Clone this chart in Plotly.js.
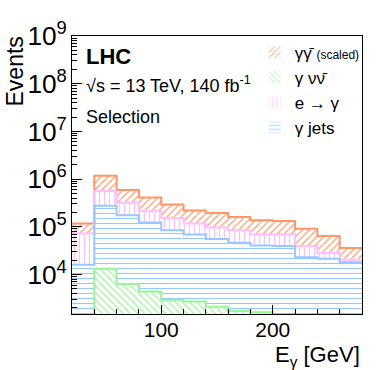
<!DOCTYPE html>
<html>
<head>
<meta charset="utf-8">
<script src="https://cdn.plot.ly/plotly-3.0.1.min.js"></script>
<style>
  body { margin: 0; background: #fff; }
  #plot { width: 382px; height: 370px; }
</style>
</head>
<body>
<div id="plot"></div>
<script>
// bin edges in GeV (20 GeV bins)
var binEdges = [20, 40, 60, 80, 100, 120, 140, 160, 180, 200, 220, 240, 260, 280];
var binCenters = [30, 50, 70, 90, 110, 130, 150, 170, 190, 210, 230, 250, 270];

// per-process yields
var gammaJets  = [16000, 274000, 174000, 122000, 84000, 69000, 55000, 46000, 40600, 39500, 23000, 21400, 18000];
var eToGamma   = [56000, 286000, 143000, 88000, 69000, 48000, 41000, 38000, 28400, 29500, 16000, 6600, 2400];
var gammaGamma = [45000, 610000, 269000, 200000, 140000, 103000, 99000, 76000, 68000, 63000, 52000, 36000, 15600];
var gammaNuNu  = [1300, 13200, 6300, 4400, 2900, 2700, 2100, 1700, 1600, 1200, 1000, 800, 600];

var font = 'Liberation Sans, Arial, sans-serif';

// stack tops
var jetsTop = gammaJets.slice();
var egTop = gammaJets.map(function (v, i) { return v + eToGamma[i]; });
var ggTop = egTop.map(function (v, i) { return v + gammaGamma[i]; });

function hatchBar(name, y, col, shape, rank) {
  return {
    type: 'bar', x: binCenters, y: y, width: 20, name: name, legendrank: rank,
    marker: {
      color: col, line: {width: 0},
      pattern: {shape: shape, fillmode: 'replace', fgcolor: col, bgcolor: 'white', size: 5, solidity: 0.22}
    },
    hoverinfo: 'skip'
  };
}

function step(y, col) {
  return {
    type: 'scatter', mode: 'lines', x: binEdges, y: y.concat([y[y.length - 1]]),
    line: {shape: 'hv', color: col, width: 2}, showlegend: false, hoverinfo: 'skip'
  };
}

var cOrange = 'rgb(255,150,100)';
var cGreen = 'rgb(150,245,150)';
var cPink = 'rgb(255,190,255)';
var cBlue = 'rgb(150,200,255)';

var data = [
  hatchBar('γγ\u0304 <span style="font-size:12px">(scaled)</span>', ggTop, cOrange, '/', 1),
  hatchBar('e → γ', egTop, cPink, '|', 3),
  hatchBar('γ jets', jetsTop, cBlue, '-', 4),
  hatchBar('γ νν\u0304', gammaNuNu, cGreen, '\\', 2),
  step(ggTop, cOrange),
  step(egTop, cPink),
  step(jetsTop, cBlue),
  step(gammaNuNu, cGreen)
];

var layout = {
  width: 382, height: 370,
  margin: {l: 72, r: 20, t: 36, b: 56},
  paper_bgcolor: 'white', plot_bgcolor: 'white',
  barmode: 'overlay', bargap: 0,
  font: {family: font, color: 'black'},
  showlegend: true,
  legend: {
    x: 0.63, y: 1.005, xanchor: 'left', yanchor: 'top',
    bgcolor: 'rgba(0,0,0,0)', borderwidth: 0,
    font: {family: font, size: 17, color: 'black'},
    tracegroupgap: 0
  },
  xaxis: {
    range: [20, 280],
    tickvals: [100, 200],
    ticks: 'inside', ticklen: 9, tickcolor: 'black',
    minor: {dtick: 20, tick0: 20, ticks: 'inside', ticklen: 5, tickcolor: 'black'},
    showline: true, mirror: true, linecolor: 'black', linewidth: 1,
    showgrid: false, zeroline: false,
    ticklabelstandoff: -3,
    tickfont: {family: font, size: 21, color: 'black'}
  },
  yaxis: {
    type: 'log', range: [3.17, 9],
    dtick: 1, exponentformat: 'power', showexponent: 'all',
    ticks: 'inside', ticklen: 10, tickcolor: 'black',
    minor: {dtick: 'D1', ticks: 'inside', ticklen: 5, tickcolor: 'black'},
    showline: true, mirror: true, linecolor: 'black', linewidth: 1,
    showgrid: false, zeroline: false,
    tickfont: {family: font, size: 21, color: 'black'}
  },
  annotations: [
    {text: 'Events', textangle: -90, xref: 'paper', yref: 'paper', x: -0.195, y: 0.874,
     xanchor: 'center', yanchor: 'middle', showarrow: false, font: {family: font, size: 23}},
    {text: 'E<sub>γ</sub> [GeV]', xref: 'paper', yref: 'paper', x: 1.0, y: -0.152,
     xanchor: 'right', yanchor: 'middle', showarrow: false, font: {family: font, size: 22}},
    {text: '<b>LHC</b>', xref: 'paper', yref: 'paper', x: 0.04, y: 0.928,
     xanchor: 'left', yanchor: 'middle', showarrow: false, font: {family: font, size: 22}},
    {text: '√s = 13 TeV, 140 fb<sup>-1</sup>', xref: 'paper', yref: 'paper', x: 0.04, y: 0.827,
     xanchor: 'left', yanchor: 'middle', showarrow: false, font: {family: font, size: 18}},
    {text: 'Selection', xref: 'paper', yref: 'paper', x: 0.04, y: 0.709,
     xanchor: 'left', yanchor: 'middle', showarrow: false, font: {family: font, size: 18}}
  ]
};

Plotly.newPlot('plot', data, layout, {displayModeBar: false, staticPlot: true});
</script>
</body>
</html>
